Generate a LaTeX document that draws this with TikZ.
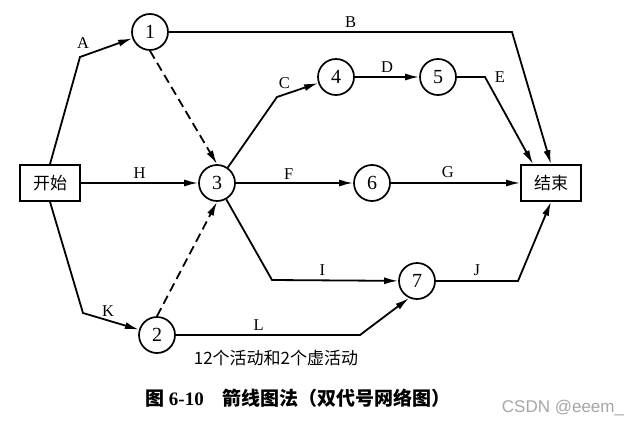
\documentclass[tikz,border=0pt]{standalone}
\usepackage{fontspec}
\setmainfont{Liberation Serif}
\newfontfamily\cjk{Noto Sans CJK SC}
\newfontfamily\wmfont{Liberation Sans}
\usetikzlibrary{arrows.meta,positioning}
\tikzset{
  event/.style={circle, draw, line width=1.7pt, minimum size=36pt, inner sep=0pt, font=\fontsize{20}{22}\selectfont},
  endpt/.style={rectangle, draw, line width=1.7pt, minimum width=60pt, minimum height=36pt, font=\cjk\fontsize{17}{19}\selectfont},
  act/.style={line width=1.8pt, -{Latex[length=14pt,width=7pt]}},
  dummy/.style={act, dash pattern=on 9pt off 5pt},
  lbl/.style={inner sep=0pt, font=\fontsize{16.5}{18}\selectfont},
}
\begin{document}
\begin{tikzpicture}[x=1pt,y=-1pt]
  \useasboundingbox (0,0) rectangle (644,428);
  % events
  \node[endpt] (s) at (50,183) {开始};
  \node[endpt] (e) at (551,183) {结束};
  \node[event] (n1) at (150,32) {1};
  \node[event] (n2) at (157,335) {2};
  \node[event] (n3) at (217,183) {3};
  \node[event] (n4) at (336,77) {4};
  \node[event] (n5) at (438,77) {5};
  \node[event] (n6) at (372,183) {6};
  \node[event] (n7) at (417,281) {7};
  % activities
  \draw[act] (s.north) -- (80,57) node[lbl, above=8pt, xshift=3pt] {A} -- (n1);
  \draw[act] (n1) -- node[lbl, above=4pt, pos=0.53] {B} (512,32) -- (e.north);
  \draw[act] (n3) -- (277,97) node[lbl, above right=7pt and 1pt] {C} -- (n4);
  \draw[act] (n4) -- node[lbl, above=4pt] {D} (n5);
  \draw[act] (n5) -- (485,77) node[lbl, right=9pt] {E} -- ([xshift=-18pt]e.north);
  \draw[act] (n3) -- node[lbl, above=3pt, pos=0.45] {F} (n6);
  \draw[act] (n6) -- node[lbl, above=4pt, pos=0.44] {G} (e);
  \draw[act] (s) -- node[lbl, above=4pt] {H} (n3);
  \draw[act] (n3) -- (272,280) -- node[lbl, above=4pt, pos=0.4] {I} (n7);
  \draw[act] (n7) -- node[lbl, above=4pt] {J} (518,281) -- (e.south);
  \draw[act] (s.south) -- (83,313) -- node[lbl, above=3pt, pos=0.45] {K} (n2);
  \draw[act] (n2) -- node[lbl, above=4pt, pos=0.45] {L} (360,335) -- (n7.-115);
  % dummy activities
  \draw[dummy] (n1.south) -- (n3.north);
  \draw[dummy] (n2.north) -- (n3.south);
  % captions
  \node[font=\cjk\fontsize{17}{19}\selectfont] (note) at (276,358) {12个活动和2个虚活动};
  \node[font=\fontsize{19}{21}\selectfont\bfseries] (cap) at (298,398) {{\cjk 图} 6-10\quad{\cjk 箭线图法（双代号网络图）}};
  \node[font=\wmfont\fontsize{17}{19}\selectfont, text=gray!70] (wm) at (563,408) {CSDN @eeem\_};
\end{tikzpicture}
\end{document}
